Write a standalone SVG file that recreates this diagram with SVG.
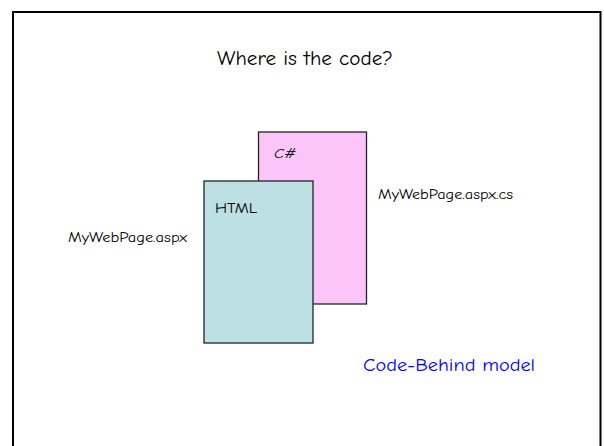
<svg xmlns="http://www.w3.org/2000/svg" width="604" height="446" viewBox="0 0 604 446">
<style>
text{font-family:"Comic Neue","Liberation Sans","DejaVu Sans",sans-serif;fill:#000;font-weight:500}
.page{stroke:#222;stroke-width:1.3}
.lbl{font-size:14px}
.title{font-size:19.5px}
.blue{font-size:19px;fill:#0000FF}
</style>
<rect width="604" height="446" fill="#fff"/>
<path d="M13 446 V12 H600.5 V446" fill="none" stroke="#000" stroke-width="2"/>
<text class="title" x="217" y="65" textLength="176" lengthAdjust="spacingAndGlyphs">Where is the code?</text>
<g id="csharp">
<rect class="page" x="258.5" y="132" width="108" height="172" fill="#FCC5F9"/>
<text class="lbl" x="274" y="158" textLength="22" lengthAdjust="spacingAndGlyphs" font-style="italic">C#</text>
</g>
<g id="html">
<rect class="page" x="204" y="181" width="109" height="162" fill="#BCE0E3"/>
<text class="lbl" x="215" y="213" textLength="42" lengthAdjust="spacingAndGlyphs">HTML</text>
</g>
<text class="lbl" x="68" y="242" textLength="119" lengthAdjust="spacingAndGlyphs">MyWebPage.aspx</text>
<text class="lbl" x="378" y="199" textLength="135" lengthAdjust="spacingAndGlyphs">MyWebPage.aspx.cs</text>
<text class="blue" x="363" y="371" textLength="172" lengthAdjust="spacingAndGlyphs">Code-Behind model</text>
<g id="connectors"/>
</svg>
